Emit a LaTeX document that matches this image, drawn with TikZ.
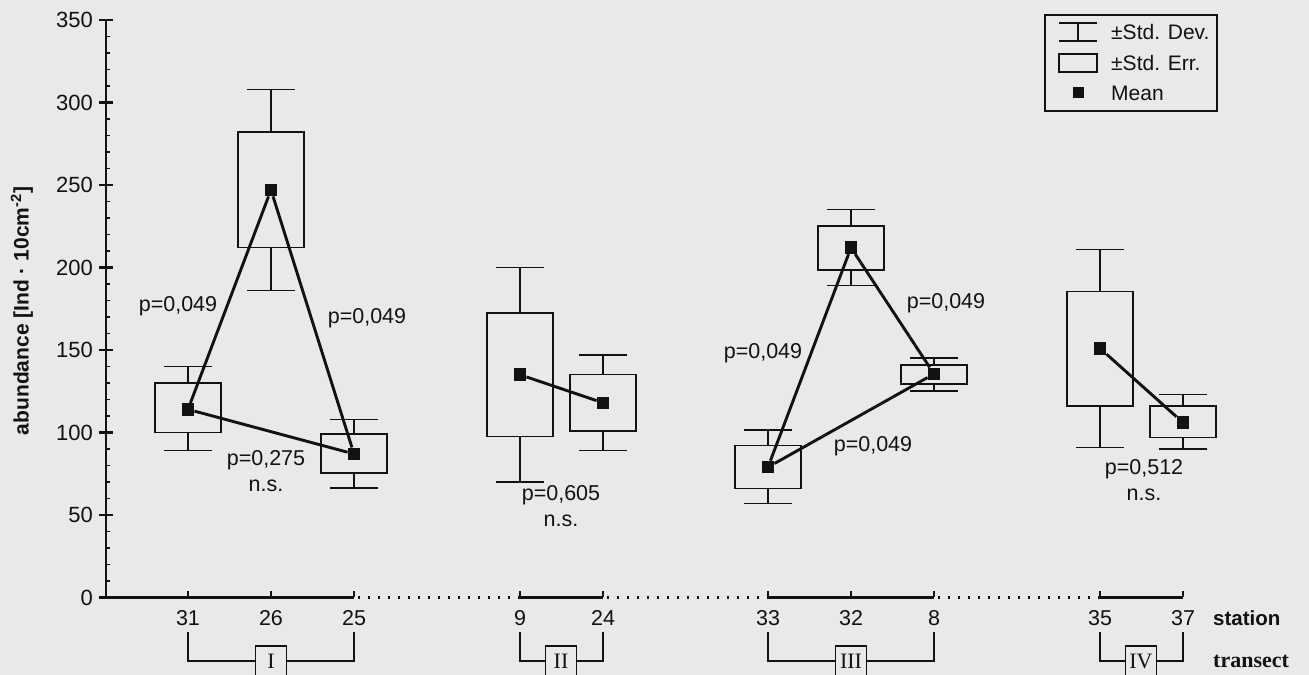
\documentclass[tikz,border=0pt]{standalone}
\usepackage{fontspec}
\setmainfont{Liberation Sans}
\newfontfamily\romfont{Liberation Serif}
\definecolor{paper}{RGB}{233,233,235}
\definecolor{ink}{RGB}{18,18,18}
% one station: name, x, sd low, se low, mean, se high, sd high
\def\statbox#1#2#3#4#5#6#7{%
  \draw[whisk] (#2,#3) -- (#2,#4) (#2,#6) -- (#2,#7);
  \draw[whisk] (#2-24,#3) -- (#2+24,#3) (#2-24,#7) -- (#2+24,#7);
  \draw[whisk] (#2-33,#4) rectangle (#2+33,#6);
  \node[meanpt] (#1) at (#2,#5) {};}

\begin{document}
\begin{tikzpicture}[x=1pt, y=1.65pt,
  axis/.style={line width=2.4pt, draw=ink},
  whisk/.style={line width=1.5pt, draw=ink},
  link/.style={line width=2.9pt, draw=ink},
  dotline/.style={line width=2.4pt, draw=ink, dash pattern=on 2.4pt off 7.6pt},
  meanpt/.style={rectangle, fill=ink, minimum size=12.5pt, inner sep=0pt},
  lab/.style={font=\fontsize{21.5}{26}\selectfont, text=ink, inner sep=0pt},
  roman/.style={draw=ink, line width=1.4pt, fill=paper, minimum width=31pt, minimum height=30pt, inner sep=0pt, text=ink, font=\romfont\fontsize{22}{24}\selectfont}]
		%%%%% START %%%%%
		
		\useasboundingbox[fill=paper] (0,-46.97) rectangle (1309,362.12);
		
		% y axis
		\draw[axis] (106,0) -- (106,350);
		\foreach \v in {0,10,...,350} \draw[axis, line width=1.8pt] (106,\v) -- (110,\v);
		\foreach \v in {0,50,...,350} {
			\draw[axis] (99,\v) -- (113,\v);
			\node[lab, font=\fontsize{22}{26}\selectfont, anchor=east] (y\v) at (93,\v) {\v};
		}
		\node[lab, font=\bfseries\fontsize{21}{25}\selectfont, rotate=90] (ylab) at (22,173.6) {abundance [Ind · 10cm\textsuperscript{-2}]};
		
		% x axis
		\draw[axis] (106,0) -- (354,0);
		\draw[axis] (520,0) -- (603,0);
		\draw[axis] (768,0) -- (934,0);
		\draw[axis] (1100,0) -- (1183,0);
		\draw[dotline] (358,0) -- (520,0) (607,0) -- (768,0) (938,0) -- (1100,0);
		\foreach \x/\s in {188/31, 271/26, 354/25, 520/9, 603/24, 768/33, 851/32, 934/8, 1100/35, 1183/37} {
			\draw[axis] (\x,0) -- (\x,4);
			\node[lab, anchor=base] (s\s) at (\x,-16.7) {\s};
		}
		\node[lab, font=\bfseries\fontsize{20.5}{25}\selectfont, anchor=base west] (stationlab) at (1213,-16.7) {station};
		
		% transects
		\node[roman] (tI) at (271,-38.5) {I};
		\node[roman] (tII) at (561,-38.5) {II};
		\node[roman] (tIII) at (851,-38.5) {III};
		\node[roman] (tIV) at (1141,-38.5) {IV};
		\draw[whisk] ([yshift=-7pt]s31.south) |- (tI.west) ([yshift=-7pt]s25.south) |- (tI.east);
		\draw[whisk] ([yshift=-7pt]s9.south) |- (tII.west) ([yshift=-7pt]s24.south) |- (tII.east);
		\draw[whisk] ([yshift=-7pt]s33.south) |- (tIII.west) ([yshift=-7pt]s8.south) |- (tIII.east);
		\draw[whisk] ([yshift=-7pt]s35.south) |- (tIV.west) ([yshift=-7pt]s37.south) |- (tIV.east);
		\node[lab, font=\romfont\bfseries\fontsize{22}{25}\selectfont, anchor=base west] (translab) at (1213,-42.4) {transect};
		
		% stations
		\statbox{m31}{188}{89}{100}{114}{130}{140}
		\statbox{m26}{271}{186}{212}{247}{282}{308}
		\statbox{m25}{354}{66.5}{75.5}{87}{99}{108}
		\statbox{m9}{520}{70}{97.5}{135}{172.5}{200}
		\statbox{m24}{603}{89}{101}{118}{135}{147}
		\statbox{m33}{768}{57}{66}{79}{92}{101.5}
		\statbox{m32}{851}{189}{198.5}{212}{225}{235}
		\statbox{m8}{934}{125}{129.5}{135.5}{141}{145}
		\statbox{m35}{1100}{91}{116}{151}{185.5}{211}
		\statbox{m37}{1183}{90}{97}{106}{116}{123}
		
		\draw[link] (m31) -- (m26) -- (m25) -- (m31);
		\draw[link] (m9) -- (m24);
		\draw[link] (m33) -- (m32) -- (m8) -- (m33);
		\draw[link] (m35) -- (m37);
		
		% p values
		\node[lab] (p1) at (178,176.7) {p=0,049};
		\node[lab] (p2) at (367,169.4) {p=0,049};
		\node[lab, align=center] (p3) at (266,76.7) {p=0,275\\n.s.};
		\node[lab, align=center] (p4) at (561,55.5) {p=0,605\\n.s.};
		\node[lab] (p5) at (763,148.2) {p=0,049};
		\node[lab] (p6) at (873,91.8) {p=0,049};
		\node[lab] (p7) at (946,178.5) {p=0,049};
		\node[lab, align=center] (p8) at (1144,70.9) {p=0,512\\n.s.};
		
		% legend
		\draw[whisk, line width=1.2pt, fill=paper] (1045,353.0) rectangle (1217,294.8);
		\draw[whisk, line width=1.2pt] (1059,348.2) -- (1097,348.2) (1059,337.3) -- (1097,337.3) (1078,348.2) -- (1078,337.3);
		\draw[whisk, line width=1.2pt] (1059,329.4) rectangle (1097,318.5);
		\node[meanpt, minimum size=11pt] (legmean) at (1078,305.8) {};
		\node[lab, font=\fontsize{21}{25}\selectfont, anchor=west] (legsd) at (1111,342.7) {±Std. Dev.};
		\node[lab, font=\fontsize{21}{25}\selectfont, anchor=west] (legse) at (1111,324.0) {±Std. Err.};
		\node[lab, font=\fontsize{21}{25}\selectfont, anchor=west] (legm) at (1111,305.8) {Mean};
		
		%%%%% END %%%%%
	\end{tikzpicture}
\end{document}
